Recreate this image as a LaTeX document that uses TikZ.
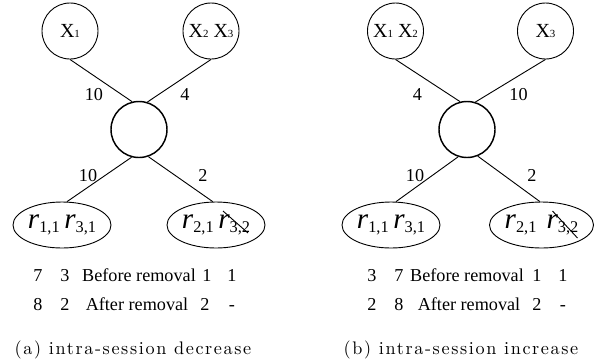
\documentclass[tikz,border=0pt]{standalone}
\usepackage{fontspec}
\newfontfamily\tnr{Liberation Serif}
\newfontfamily\capfont[LetterSpace=9]{lmroman10-regular.otf}
\usetikzlibrary{shapes.geometric}
\newcommand{\sx}[1]{X{\fontsize{6}{6}\selectfont #1}}
\newcommand{\rv}[1]{{\fontsize{16}{16}\selectfont\itshape r}\raisebox{-2pt}{\fontsize{9}{9}\selectfont #1}}

\begin{document}
\begin{tikzpicture}[
    x=0.55pt,y=-0.55pt,
    every node/.style={font=\tnr\fontsize{10}{12}\selectfont,inner sep=1pt},
    sess/.style={circle,draw,line width=0.5pt,minimum size=30.8pt,inner sep=0pt,font=\tnr\fontsize{11}{12}\selectfont},
    hub/.style={circle,draw,line width=0.8pt,minimum size=30.8pt,inner sep=0pt},
    recv/.style={ellipse,draw,line width=0.5pt,minimum width=53.9pt,minimum height=25.3pt,inner sep=0pt},
    link/.style={line width=0.5pt},
    wt/.style={anchor=base},
    row/.style={anchor=base},
    subcap/.style={anchor=base,font=\capfont\fontsize{10}{12}\selectfont}
  ]
    \useasboundingbox (0,0) rectangle (605,362);
    % (a) intra-session decrease
    \node[sess] (a-x1) at (70,31) {\sx{1}};
    \node[sess] (a-x23) at (211,31) {\sx{2} \sx{3}};
    \node[hub] (a-hub) at (139,129.5) {};
    \node[recv] (a-r1) at (62,225) {\rv{1,1} \rv{3,1}};
    \node[recv] (a-r2) at (216,225) {\rv{2,1} \rv{3,2}};
    \draw[link] (a-x1.south) -- (a-hub.104);
    \draw[link] (a-x23.south) -- (a-hub.73);
    \draw[link] (a-hub.-105) -- (a-r1.78);
    \draw[link] (a-hub.-71) -- (a-r2.98);
    \coordinate (a-s1) at ([shift={(7,-14)}]a-r2.center);
    \coordinate (a-s2) at ([shift={(32,8)}]a-r2.center);
    \draw[link] (a-s1) -- (a-s2);
    \node[wt] (a-w1) at (94,100) {10};
    \node[wt] (a-w2) at (185,100) {4};
    \node[wt] (a-w3) at (88,181) {10};
    \node[wt] (a-w4) at (203,181) {2};
    \node[row] (a-b1) at (38,281) {7};
    \node[row] (a-b2) at (65,281) {3};
    \node[row] (a-b3) at (139,281) {Before removal};
    \node[row] (a-b4) at (207,281) {1};
    \node[row] (a-b5) at (232,281) {1};
    \node[row] (a-f1) at (38,310) {8};
    \node[row] (a-f2) at (65,310) {2};
    \node[row] (a-f3) at (137,310) {After removal};
    \node[row] (a-f4) at (205,310) {2};
    \node[row] (a-f5) at (232,310) {-};
    \node[subcap] (a-cap) at (133,354) {(a) intra-session decrease};
    % (b) intra-session increase
    \node[sess] (b-x12) at (395.5,31) {\sx{1} \sx{2}};
    \node[sess] (b-x3) at (545.5,31) {\sx{3}};
    \node[hub] (b-hub) at (467,129.5) {};
    \node[recv] (b-r1) at (391,225) {\rv{1,1} \rv{3,1}};
    \node[recv] (b-r2) at (541.5,225) {\rv{2,1}\hspace{3pt} \rv{3,2}};
    \draw[link] (b-x12.south) -- (b-hub.104);
    \draw[link] (b-x3.south) -- (b-hub.73);
    \draw[link] (b-hub.-108) -- (b-r1.78);
    \draw[link] (b-hub.-68) -- (b-r2.94);
    \coordinate (b-s1) at ([shift={(11,-14)}]b-r2.center);
    \coordinate (b-s2) at ([shift={(36,13)}]b-r2.center);
    \draw[link] (b-s1) -- (b-s2);
    \node[wt] (b-w1) at (417.5,100) {4};
    \node[wt] (b-w2) at (518.5,100) {10};
    \node[wt] (b-w3) at (415,181) {10};
    \node[wt] (b-w4) at (532,181) {2};
    \node[row] (b-b1) at (372,281) {3};
    \node[row] (b-b2) at (399,281) {7};
    \node[row] (b-b3) at (467,281) {Before removal};
    \node[row] (b-b4) at (537,281) {1};
    \node[row] (b-b5) at (563,281) {1};
    \node[row] (b-f1) at (372,310) {2};
    \node[row] (b-f2) at (399,310) {8};
    \node[row] (b-f3) at (469,310) {After removal};
    \node[row] (b-f4) at (537,310) {2};
    \node[row] (b-f5) at (563,310) {-};
    \node[subcap] (b-cap) at (461,354) {(b) intra-session increase};
\end{tikzpicture}
\end{document}
